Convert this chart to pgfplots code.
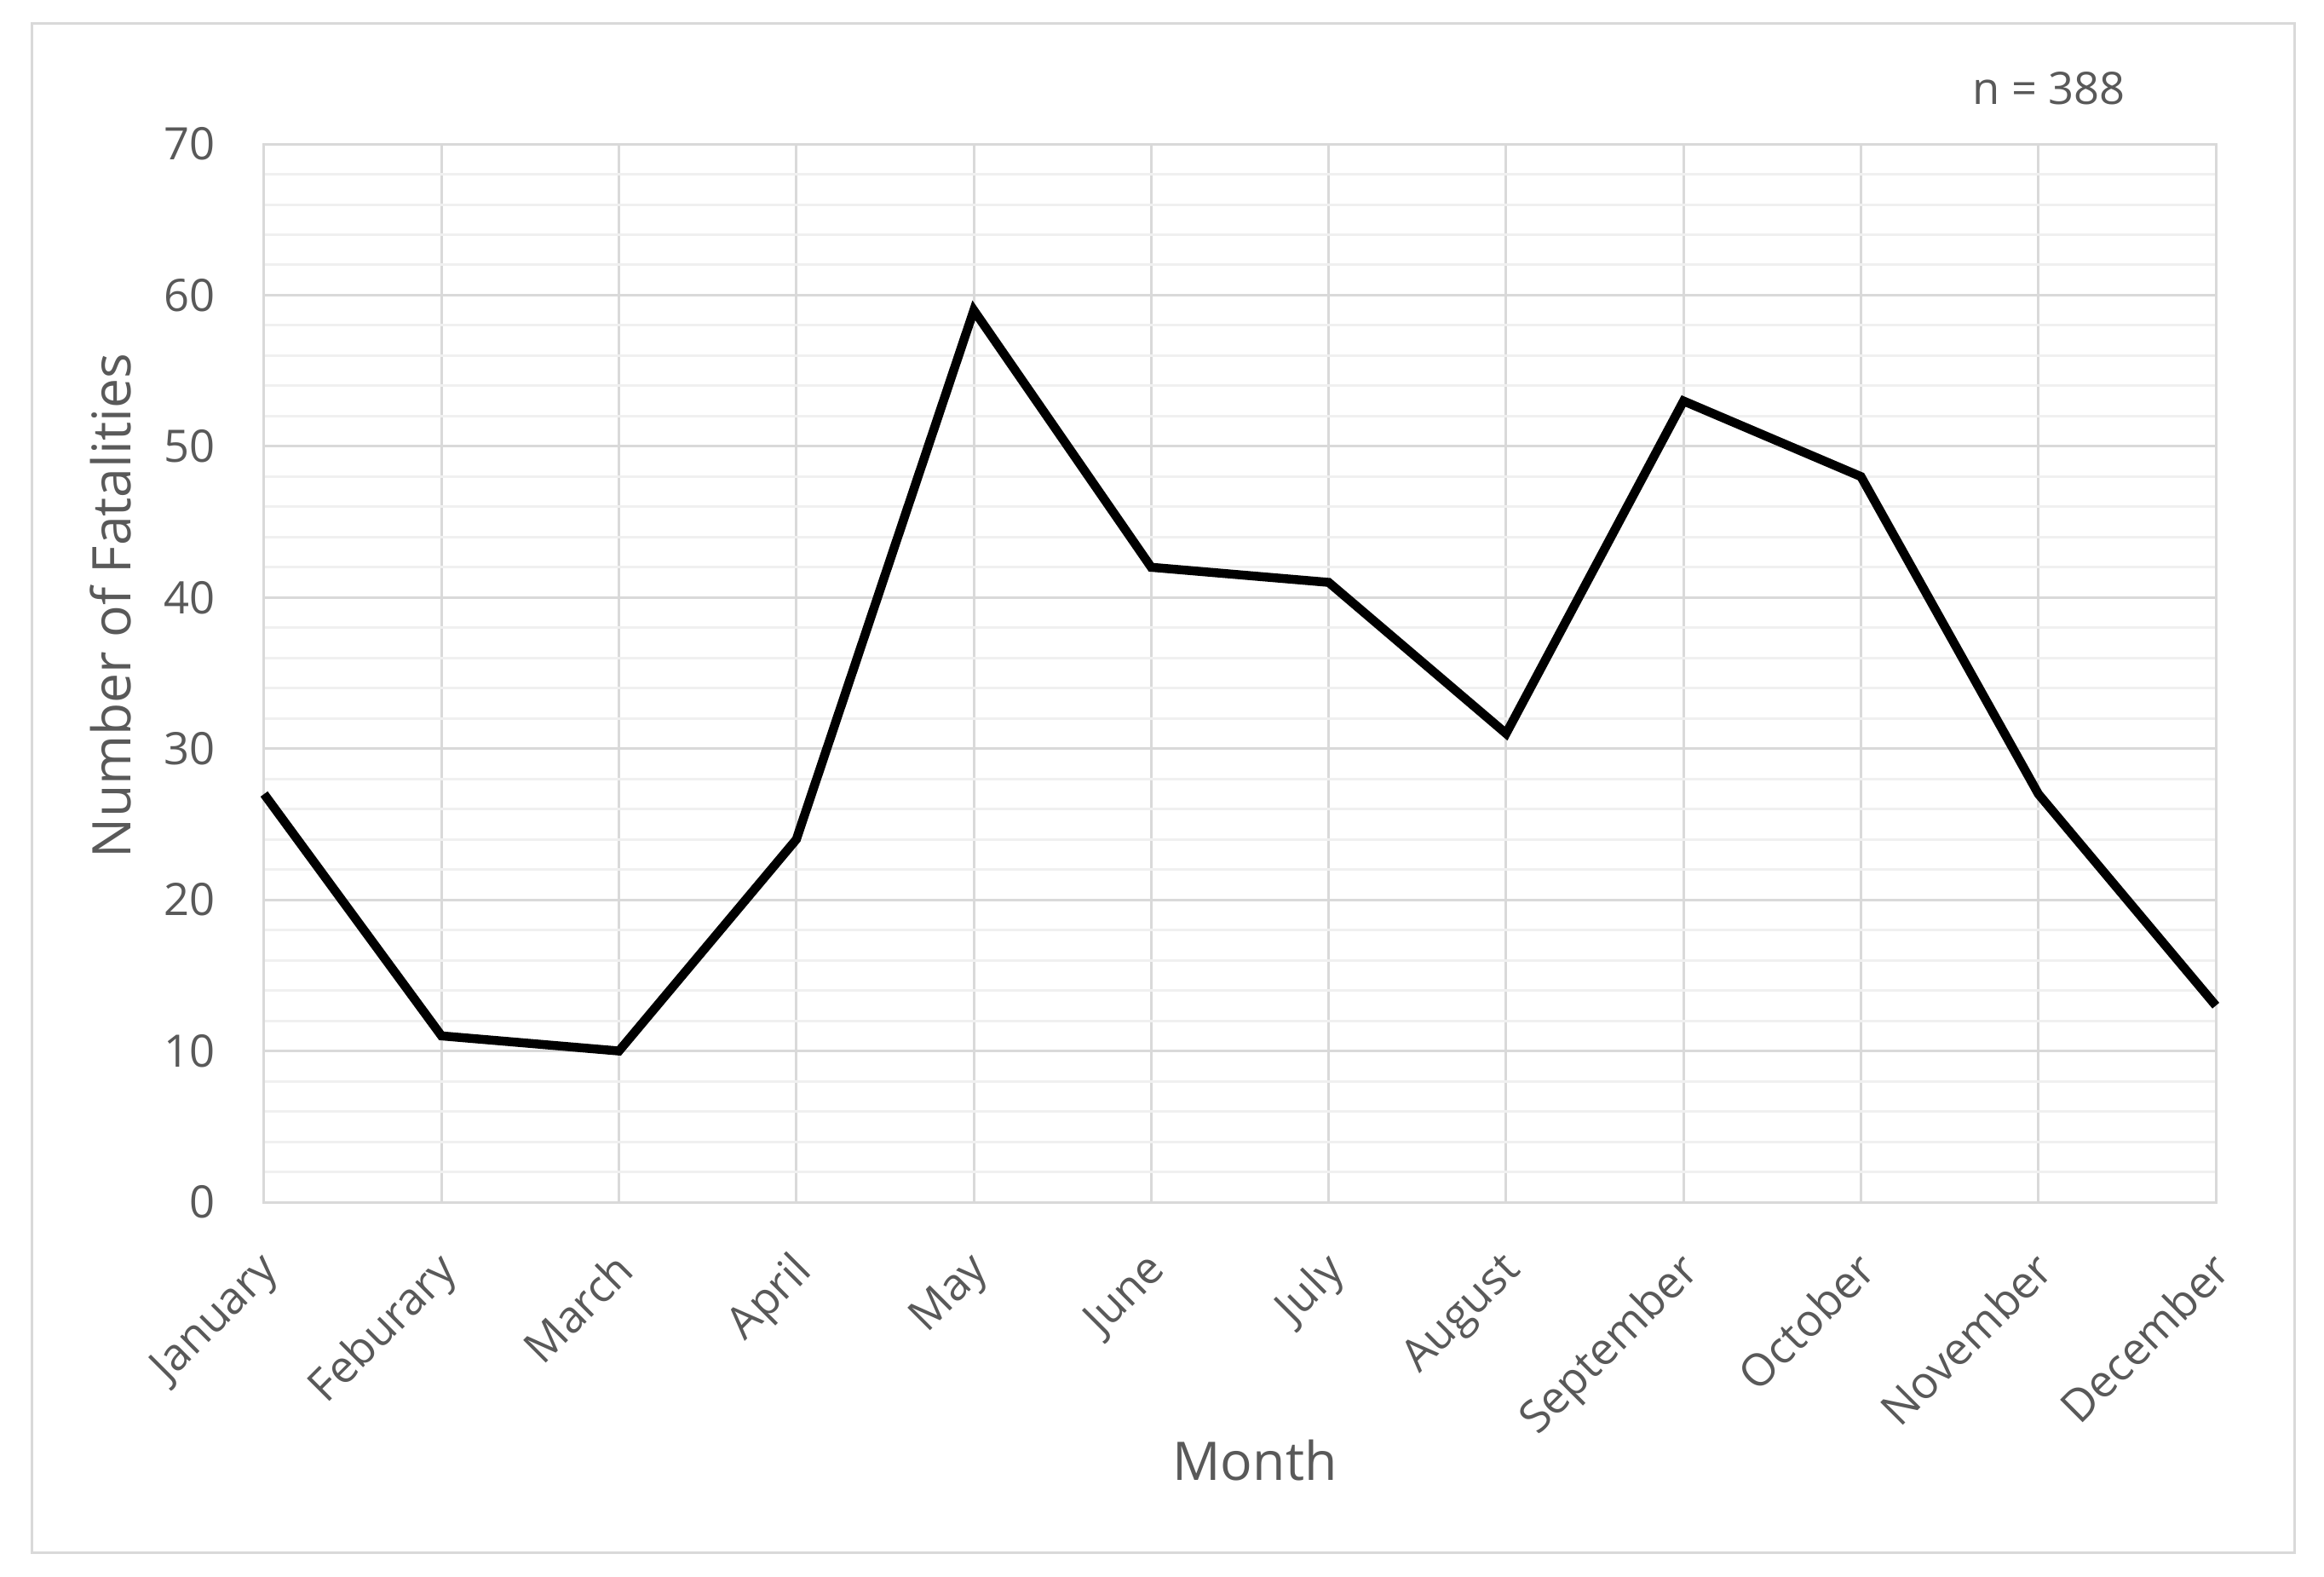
\documentclass[border=0pt]{standalone}
\usepackage{pgfplots}
\pgfplotsset{compat=1.18}
\usepackage{fontspec}
\setmainfont{Open Sans}
\definecolor{txt}{HTML}{595959}
\definecolor{gmaj}{HTML}{D9D9D9}
\definecolor{gmin}{HTML}{F0F0F0}
\begin{document}
\begin{tikzpicture}
\path[use as bounding box] (-62pt,-87.8pt) rectangle (483.6pt,282.2pt);
\draw[gmaj, line width=0.6pt] (-54.4pt,-82.2pt) rectangle (476.6pt,276.6pt);
\begin{axis}[
  at={(0,0)}, anchor=origin,
  scale only axis, width=458.2pt, height=248.4pt,
  xmin=0, xmax=11, ymin=0, ymax=70,
  xtick={0,...,11},
  xticklabels={January,Feburary,March,April,May,June,July,August,September,October,November,December},
  ytick={0,10,...,70},
  minor y tick num=4,
  grid=both,
  major grid style={gmaj, line width=0.6pt},
  minor grid style={gmin, line width=0.6pt},
  axis line style={gmaj, line width=0.6pt},
  major tick length=0pt, minor tick length=0pt,
  tick style={draw=none},
  /pgf/number format/assume math mode=true,
  yticklabel style={font=\fontsize{10.5}{12}\selectfont, text=txt, xshift=-8pt},
  xticklabel style={font=\fontsize{10.5}{12}\selectfont, text=txt, rotate=45, anchor=north east, xshift=-5.4pt, yshift=-3.1pt},
  xlabel={Month},
  label style={font=\fontsize{12.5}{15}\selectfont, text=txt},
  xlabel style={at={(axis description cs:0.5,0)}, anchor=center, yshift=-60.6pt, xshift=3.5pt},
  clip=false,
]
\addplot[black, line width=2.1pt, line join=miter, mark=none] coordinates {
(0,27) (1,11) (2,10) (3,24) (4,59) (5,42) (6,41) (7,31) (8,53) (9,48) (10,27) (11,13)
};
\end{axis}
\node[font=\fontsize{12.5}{15}\selectfont, text=txt, rotate=90] at (-36pt,140pt) {Number of Fatalities};
\node[font=\fontsize{10.5}{12}\selectfont, text=txt] at (419pt,261.4pt) {n = 388};
\end{tikzpicture}
\end{document}
